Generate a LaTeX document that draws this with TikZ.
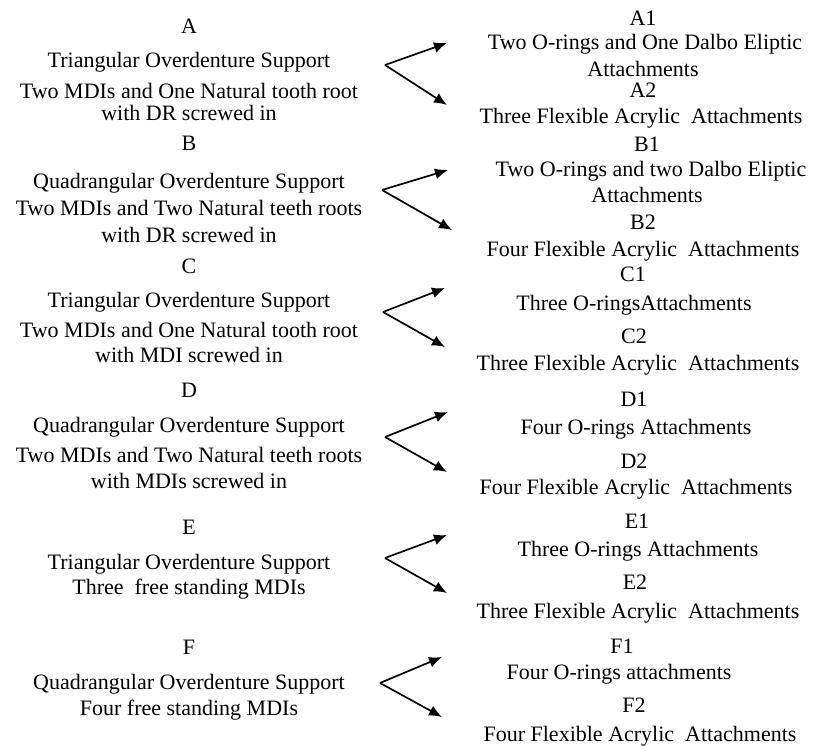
\documentclass[tikz,border=0pt]{standalone}
\usepackage{fontspec}
\setmainfont{Liberation Serif}
\usetikzlibrary{arrows.meta}

\begin{document}
\begin{tikzpicture}[x=1pt,y=-1pt,
	every node/.style={font=\fontsize{22}{24}\selectfont,anchor=base,inner sep=0pt,
		text height=14pt,text depth=3pt},
	split/.style={-{Latex[length=13pt,width=11pt]},line width=1.7pt,black}]
	\useasboundingbox (0,0) rectangle (825,746);
	% left column
	\node (A)    at (189,34)  {A};
	\node (Asup) at (189,68)  {Triangular Overdenture Support};
	\node (Ab1)  at (189,99)  {Two MDIs and One Natural tooth root};
	\node (Ab2)  at (189,121) {with DR screwed in};
	\node (B)    at (189,151) {B};
	\node (Bsup) at (189,189) {Quadrangular Overdenture Support};
	\node (Bb1)  at (189,216) {Two MDIs and Two Natural teeth roots};
	\node (Bb2)  at (189,243) {with DR screwed in};
	\node (C)    at (189,273) {C};
	\node (Csup) at (189,307) {Triangular Overdenture Support};
	\node (Cb1)  at (189,337) {Two MDIs and One Natural tooth root};
	\node (Cb2)  at (189,362) {with MDI screwed in};
	\node (D)    at (189,397) {D};
	\node (Dsup) at (189,432) {Quadrangular Overdenture Support};
	\node (Db1)  at (189,462) {Two MDIs and Two Natural teeth roots};
	\node (Db2)  at (189,488) {with MDIs screwed in};
	\node (E)    at (189,534) {E};
	\node (Esup) at (189,569) {Triangular Overdenture Support};
	\node (Eb1)  at (189,594) {Three~ free standing MDIs};
	\node (F)    at (189,654) {F};
	\node (Fsup) at (189,689) {Quadrangular Overdenture Support};
	\node (Fb1)  at (189,715) {Four free standing MDIs};
	% right column
	\node (A1)  at (643,26)  {A1};
	\node (A1a) at (645,50)  {Two O-rings and One Dalbo Eliptic};
	\node (A1b) at (643,77)  {Attachments};
	\node (A2)  at (643,98)  {A2};
	\node (A2a) at (641,124) {Three Flexible Acrylic~ Attachments};
	\node (B1)  at (647,152) {B1};
	\node (B1a) at (651,177) {Two O-rings and two Dalbo Eliptic};
	\node (B1b) at (647,203) {Attachments};
	\node (B2)  at (643,230) {B2};
	\node (B2a) at (643,257) {Four Flexible Acrylic~ Attachments};
	\node (C1)  at (633,281) {C1};
	\node (C1a) at (634,310) {Three O-ringsAttachments};
	\node (C2)  at (634,343) {C2};
	\node (C2a) at (638,370) {Three Flexible Acrylic~ Attachments};
	\node (D1)  at (634,406) {D1};
	\node (D1a) at (636,434) {Four O-rings Attachments};
	\node (D2)  at (634,468) {D2};
	\node (D2a) at (636,494) {Four Flexible Acrylic~ Attachments};
	\node (E1)  at (637,528) {E1};
	\node (E1a) at (638,556) {Three O-rings Attachments};
	\node (E2)  at (635,589) {E2};
	\node (E2a) at (638,618) {Three Flexible Acrylic~ Attachments};
	\node (F1)  at (622,653) {F1};
	\node (F1a) at (619,679) {Four O-rings attachments};
	\node (F2)  at (634,712) {F2};
	\node (F2a) at (640,741) {Four Flexible Acrylic~ Attachments};
	% arrows
	\foreach \g/\vx/\vy/\ux/\uy/\lx/\ly in {A/385/65/447/43/447/105,
			B/382/190/448/170/452/230, C/383/312/445/288/445/347,
			D/385/437/448/412/447/472, E/385/558/447/535/447/593,
			F/380/683/442/657/442/717}{
		\coordinate (v\g) at (\vx,\vy);
		\coordinate (u\g) at (\ux,\uy);
		\coordinate (l\g) at (\lx,\ly);
		\draw[split] (v\g) -- (u\g);
		\draw[split] (v\g) -- (l\g);
	}
\end{tikzpicture}
\end{document}
